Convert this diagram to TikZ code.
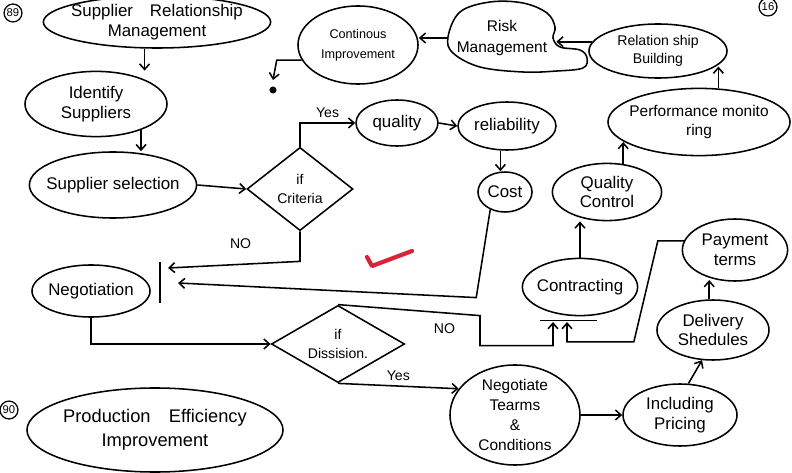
\documentclass[tikz,border=0pt]{standalone}
\usepackage{fontspec}
\setmainfont{Liberation Sans}
\usetikzlibrary{shapes.geometric,arrows.meta}
\definecolor{tickred}{RGB}{214,36,56}
\tikzset{
  bubble/.style={ellipse, draw, line width=1.1pt, inner xsep=-14pt, inner ysep=-6pt, align=center, font=\fontsize{12}{14}\selectfont},
  decision/.style={diamond, draw, line width=1.1pt, inner sep=-4pt, align=center, font=\fontsize{10}{14}\selectfont},
  tag/.style={circle, draw, line width=0.9pt, inner sep=0.8pt, font=\fontsize{8}{9}\selectfont},
  flow/.style={line width=1.1pt, -{Straight Barb[length=4pt,width=7pt]}},
  link/.style={line width=1.1pt},
  lbl/.style={font=\fontsize{10}{12}\selectfont}
}

\begin{document}
\begin{tikzpicture}[x=0.025cm, y=-0.025cm]
  \useasboundingbox (0,0) rectangle (792,473);

  \foreach \n/\x/\y in {89/13/13, 16/768/7, 90/9/410} {
    \node[tag] (t\n) at (\x,\y) {\n};
  }

  \node[bubble, minimum width=5.68cm, minimum height=1.3cm] (srm) at (157,22) {Supplier\quad Relationship\\Management};
  \node[bubble, minimum width=3.55cm, minimum height=1.63cm] (ids) at (96,104) {Identify\\Suppliers};
  \node[bubble, minimum width=4.18cm, minimum height=1.65cm] (sel) at (113,185) {Supplier selection};
  \node[decision, minimum width=2.65cm, minimum height=2.08cm] (crit) at (300,189) {if\\Criteria};
  \node[bubble, minimum width=2.95cm, minimum height=1.3cm] (neg) at (91,291) {Negotiation};
  \node[decision, minimum width=3.33cm, minimum height=1.93cm] (dis) at (338,344) {if\\Dissision.};
  \node[bubble, minimum width=6.4cm, minimum height=2.1cm, font=\fontsize{13}{17}\selectfont] (prod) at (155,430) {Production\quad Efficiency\\Improvement};

  \node[bubble, minimum width=3cm, minimum height=1.95cm, font=\fontsize{9}{14}\selectfont] (cont) at (358,45) {Continous\\Improvement};
  \node[align=center, minimum width=2.7cm, minimum height=1.8cm, inner xsep=0pt, font=\fontsize{11}{15}\selectfont] (risk) at (502,38) {Risk\\Management};
  \draw[link] plot[smooth cycle, tension=0.6] coordinates {(448,37) (460,12) (490,2) (523,3) (547,13) (555,27) (553,38) (560,47) (580,50) (587,58) (583,68) (557,71) (523,72) (480,67) (453,53)};
  \node[bubble, minimum width=3.45cm, minimum height=1.35cm, font=\fontsize{10}{13}\selectfont] (rb) at (658,51) {Relation ship\\Building};
  \node[bubble, minimum width=4.55cm, minimum height=1.68cm, font=\fontsize{11}{14}\selectfont] (pm) at (699,122) {Performance monito\\ring};
  \node[bubble, minimum width=2.05cm, minimum height=1.15cm] (qual) at (397,123) {quality};
  \node[bubble, minimum width=2.45cm, minimum height=1.2cm] (rel) at (507,126) {reliability};
  \node[bubble, minimum width=1.35cm, minimum height=1cm] (cost) at (505,192) {Cost};
  \node[bubble, minimum width=2.73cm, minimum height=1.43cm] (qc) at (607,192) {Quality\\Control};
  \node[bubble, minimum width=2.88cm, minimum height=1.43cm] (con) at (580,287) {Contracting};
  \node[bubble, minimum width=2.63cm, minimum height=1.55cm] (pay) at (735,250) {Payment\\terms};
  \node[bubble, minimum width=2.8cm, minimum height=1.5cm] (del) at (713,330) {Delivery\\Shedules};
  \node[bubble, minimum width=2.85cm, minimum height=1.55cm] (inc) at (680,415) {Including\\Pricing};
  \node[bubble, minimum width=3.25cm, minimum height=2.5cm, font=\fontsize{11}{14}\selectfont] (negt) at (515,415) {Negotiate\\Tearms\\\&\\Conditions};

  \coordinate (nin1) at (168,268);
  \coordinate (nin2) at (178,283);
  \coordinate (cin1) at (553,322);
  \coordinate (cin2) at (567,322);
  \coordinate (cdot) at (273,80);

  \draw[link] (nin1) ++(-8,-6) -- ++(0,41);
  \draw[link] (con.south) ++(-40,4) -- ++(57,0);
  \fill (cdot) ++(0,10) circle[radius=2.5pt];

  \draw[flow] (srm.245) -- (srm.245 |- ids.north);
  \draw[flow] (ids.330) -- (ids.330 |- sel.north);
  \draw[flow] (sel.east) -- (crit.west);
  \draw[flow] (crit.north) |- (qual.west) node[lbl, pos=0.75, above] {Yes};
  \draw[flow] (crit.south) -- ++(0,30) -- (nin1) node[lbl, pos=0.45, above=7pt] {NO};
  \draw[flow] (cost.230) -- ++(-14,88) -- (nin2);
  \draw[flow] (neg.south) |- (dis.west);
  \draw[flow] (dis.north) -- ++(142,11) node[lbl, pos=0.75, below=4pt] {NO} -- ++(0,30) -| (cin1);
  \draw[flow] (pay.170) -- ++(-26,0) -- ++(-24,101) -| (cin2);
  \draw[flow] (dis.south) -- (negt.155) node[lbl, midway, above] {Yes};
  \draw[flow] (negt.east) -- (inc.west);
  \draw[flow] (inc.75) -- (del.250);
  \draw[flow] (del.97) -- (del.97 |- pay.240);
  \draw[flow] (con.north) -- (con.north |- qc.south);
  \draw[flow] (qc.60) -- (qc.60 |- pm.195);
  \draw[flow] (pm.60) -- (pm.60 |- rb.345);
  \draw[flow] (rb.172) -- (rb.172 -| risk.east);
  \draw[flow] (risk.west) -- (risk.west -| cont.east);
  \draw[flow] (cont.195) -- ++(-25,0) -- (cdot);
  \draw[flow] (qual.east) -- (rel.west);
  \draw[flow] (rel.255) -- (rel.255 |- cost.north);

  \draw[tickred, line width=3pt, line cap=round, line join=round] (367,257) -- (372,266) -- (412,251);
\end{tikzpicture}
\end{document}
